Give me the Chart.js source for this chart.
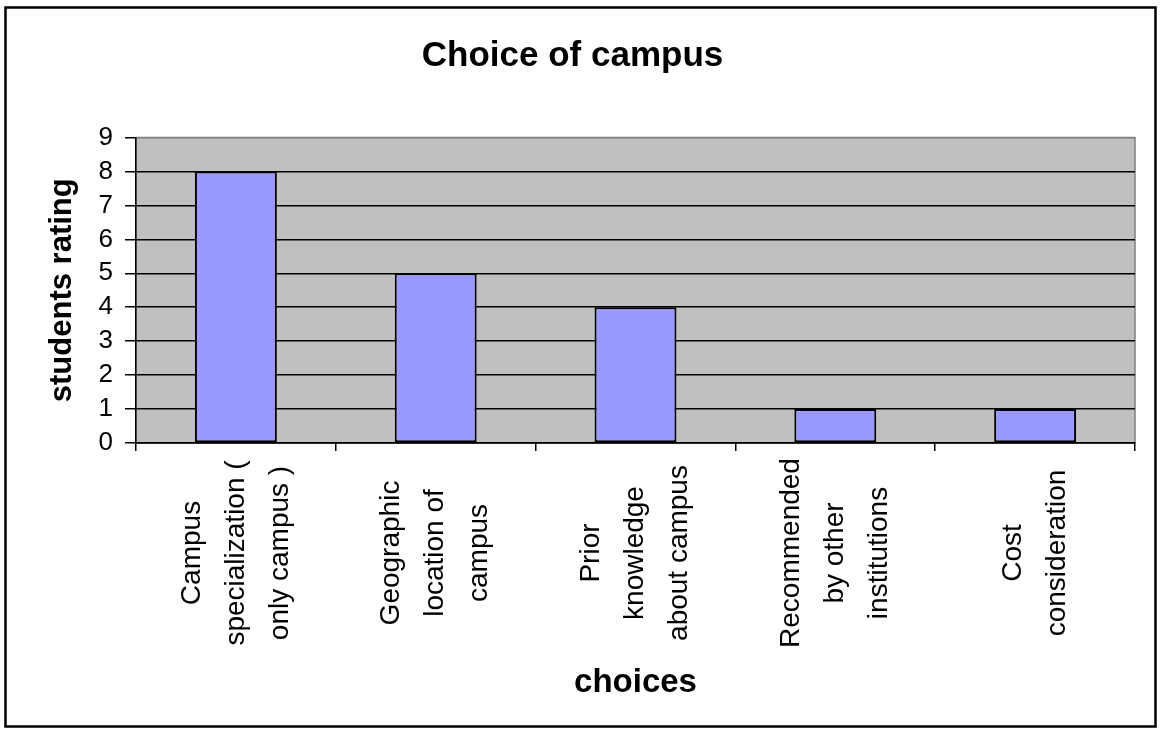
<!DOCTYPE html>
<html lang="en">
<head>
<meta charset="UTF-8">
<title>Choice of campus</title>
<script src="https://cdn.jsdelivr.net/npm/chart.js"></script>
<style>
  html, body { margin:0; padding:0; background:#fff; }
  #wrap { width:1160px; height:731px; }
</style>
</head>
<body>
<div id="wrap"><canvas id="campusChart" width="1160" height="731"></canvas></div>

<script>
// data
const categories = [
  ['Campus', 'specialization (', 'only campus )'],
  ['Geographic', 'location of', 'campus'],
  ['Prior', 'knowledge', 'about campus'],
  ['Recommended', 'by other', 'institutions'],
  ['Cost', 'consideration']
];
const ratings = [8, 5, 4, 1, 1];
const yTicks = [0, 1, 2, 3, 4, 5, 6, 7, 8, 9];

const FONT = "'Liberation Sans', Arial, sans-serif";

// grey plot area + outer black frame (Excel look)
const frame = {
  id: 'frame',
  beforeDraw(chart) {
    const {ctx, chartArea: a} = chart;
    ctx.save();
    ctx.fillStyle = '#fff';
    ctx.fillRect(0, 0, chart.width, chart.height);
    ctx.fillStyle = '#c0c0c0';
    ctx.fillRect(a.left, a.top, a.right - a.left, a.bottom - a.top);
    ctx.strokeStyle = '#808080';
    ctx.lineWidth = 1.5;
    ctx.strokeRect(a.left, a.top, a.right - a.left, a.bottom - a.top);
    ctx.restore();
  },
  afterDraw(chart) {
    const {ctx} = chart;
    ctx.save();
    ctx.strokeStyle = '#000';
    ctx.lineWidth = 2.5;
    ctx.strokeRect(5.5, 7.5, 1150, 719);
    ctx.restore();
  }
};

// category labels: rotated, lines centred on each other
const rotatedLabels = {
  id: 'rotatedLabels',
  afterDraw(chart) {
    const {ctx} = chart;
    const x = chart.scales.x;
    ctx.save();
    ctx.font = `28px ${FONT}`;
    ctx.fillStyle = '#000';
    ctx.textAlign = 'center';
    ctx.textBaseline = 'middle';
    chart.data.labels.forEach((lines, i) => {
      ctx.save();
      ctx.translate(x.getPixelForValue(i), x.top + 110);
      ctx.rotate(-Math.PI / 2);
      lines.forEach((t, j) => ctx.fillText(t, 0, (j - (lines.length - 1) / 2) * 44));
      ctx.restore();
    });
    ctx.restore();
  }
};

const ctx = document.getElementById('campusChart').getContext('2d');
new Chart(ctx, {
  type: 'bar',
  data: {
    labels: categories,
    datasets: [{
      data: ratings,
      backgroundColor: '#9999ff',
      borderColor: '#000',
      borderWidth: 2,
      borderSkipped: false,
      barPercentage: 0.41,
      categoryPercentage: 1
    }]
  },
  options: {
    responsive: false,
    animation: false,
    layout: { padding: { left: 10, right: 25, top: 10, bottom: 10 } },
    plugins: {
      legend: { display: false },
      tooltip: { enabled: false },
      title: {
        display: true, text: 'Choice of campus', color: '#000',
        font: { family: FONT, size: 35, weight: 'bold', lineHeight: 1.2 },
        padding: { top: 25, bottom: 60.5 }
      }
    },
    scales: {
      x: {
        offset: true,
        afterFit(s) { s.height = 278; },
        grid: { offset: true, drawOnChartArea: false, drawTicks: true, tickLength: 8, color: '#000', lineWidth: 1.5 },
        border: { color: '#000', width: 1.5 },
        ticks: { display: false },
        title: {
          display: true, text: 'choices', color: '#000',
          font: { family: FONT, size: 33, weight: 'bold', lineHeight: 1.2 },
          padding: { top: 0, bottom: 18 }
        }
      },
      y: {
        min: yTicks[0],
        max: yTicks[yTicks.length - 1],
        afterFit(s) { s.width = 126; },
        ticks: { stepSize: 1, autoSkip: false, color: '#000', font: { family: FONT, size: 26 }, padding: 12 },
        grid: {
          color: c => (c.tick && c.tick.value === 9) ? '#808080' : '#000',
          lineWidth: 1.5, tickLength: 11, tickColor: '#000'
        },
        border: { color: '#000', width: 1.5 },
        title: {
          display: true, text: 'students rating', color: '#000',
          font: { family: FONT, size: 31, weight: 'bold', lineHeight: 1.2 },
          padding: { top: 34, bottom: 0 }
        }
      }
    }
  },
  plugins: [frame, rotatedLabels]
});
</script>
</body>
</html>
